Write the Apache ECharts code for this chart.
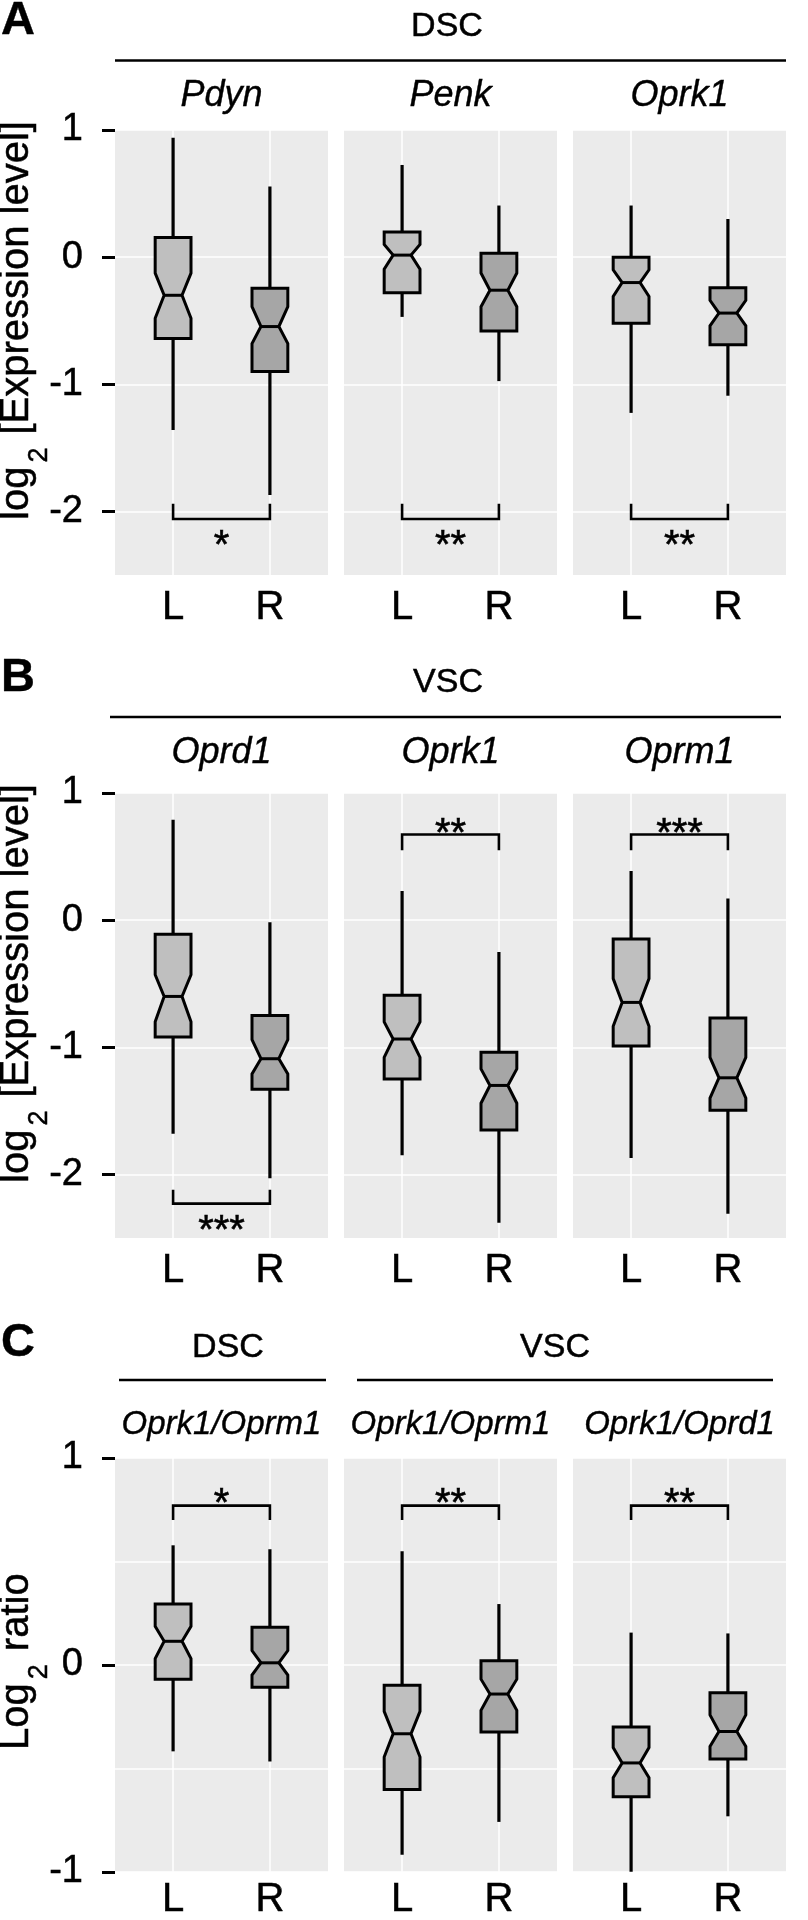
<!DOCTYPE html>
<html>
<head>
<meta charset="utf-8">
<script src="https://cdn.jsdelivr.net/npm/echarts@6/dist/echarts.min.js"></script>
<style>
html,body{margin:0;padding:0;background:#fff;}
#chart{width:808px;height:1920px;}
</style>
</head>
<body>
<div id="chart"></div>
<script>
// ---------------- DATA ----------------
const panelLetters = ['A', 'B', 'C'];
const sides = ['L', 'R'];
const groupTitlesA = ['DSC'];
const groupTitlesB = ['VSC'];
const groupTitlesC = ['DSC', 'VSC'];
const genesA = ['Pdyn', 'Penk', 'Oprk1'];
const genesB = ['Oprd1', 'Oprk1', 'Oprm1'];
const genesC = ['Oprk1/Oprm1', 'Oprk1/Oprm1', 'Oprk1/Oprd1'];
const yTicksAB = [-2, -1, 0, 1];
const yTicksC = [-1, 0, 1];
const yMinorC = [-0.5, 0.5];
const axisTitleAB = ['log', '2', ' [Expression level]'];
const axisTitleC = ['Log', '2', ' ratio'];

// box stats per gene, [L, R]; each: [whiskerLow, Q1, notchLow, median, notchHigh, Q3, whiskerHigh]
const statsA = [
  [[-1.36, -0.64, -0.48, -0.30, -0.126, 0.155, 0.94], [-1.87, -0.90, -0.68, -0.546, -0.39, -0.244, 0.556]],
  [[-0.47, -0.28, -0.094, 0.016, 0.10, 0.197, 0.725], [-0.975, -0.58, -0.39, -0.26, -0.125, 0.03, 0.406]],
  [[-1.225, -0.52, -0.31, -0.20, -0.10, 0.0, 0.406], [-1.09, -0.69, -0.54, -0.44, -0.34, -0.24, 0.30]]
];
const statsB = [
  [[-1.68, -0.92, -0.80, -0.60, -0.43, -0.11, 0.79], [-2.03, -1.33, -1.21, -1.09, -0.94, -0.75, -0.017]],
  [[-1.85, -1.25, -1.08, -0.935, -0.80, -0.59, 0.23], [-2.38, -1.65, -1.44, -1.30, -1.17, -1.04, -0.25]],
  [[-1.87, -0.99, -0.835, -0.647, -0.46, -0.149, 0.386], [-2.31, -1.495, -1.40, -1.24, -1.08, -0.77, 0.17]]
];
const statsC = [
  [[-0.418, -0.069, 0.03, 0.114, 0.186, 0.294, 0.578], [-0.467, -0.108, -0.049, 0.01, 0.069, 0.182, 0.559]],
  [[-0.918, -0.602, -0.445, -0.333, -0.225, -0.098, 0.549], [-0.759, -0.324, -0.22, -0.141, -0.069, 0.02, 0.294]],
  [[-1.0, -0.637, -0.545, -0.474, -0.40, -0.30, 0.156], [-0.732, -0.455, -0.394, -0.322, -0.242, -0.135, 0.152]]
];
// significance brackets: [barLevel, tipLevel, labelLevel]
const sigA = [[-2.06, -1.94, -2.2], [-2.06, -1.94, -2.2], [-2.06, -1.94, -2.2]];
const sigB = [[-2.23, -2.12, -2.37], [0.674, 0.55, 0.75], [0.674, 0.55, 0.75]];
const sigC = [[0.77, 0.70, 0.82], [0.77, 0.70, 0.82], [0.77, 0.70, 0.82]];
const sigLabelsA = ['*', '**', '**'];
const sigLabelsB = ['***', '**', '***'];
const sigLabelsC = ['*', '**', '**'];
const yRangeAB = [-2.5, 1];
const yRangeC = [-1, 1];

// ---------------- STYLE / LAYOUT ----------------
const FONT = '"Liberation Sans", Arial, Helvetica, sans-serif';
const FILLS = ['#BFBFBF', '#A6A6A6'];
const INK = 0.5; // slight extra stroke to match the heavier text of the original
const COLS = [115, 344, 573];
const PW = 213;
const LAYOUT = [
  { top: 130, h: 445, xMargin: 11, titleStart: 520 },
  { top: 793, h: 445, xMargin: 11, titleStart: 1183 },
  { top: 1458, h: 420, xMargin: 6, titleStart: 1750 }
];
const BOX_HW = 0.185, NOTCH_HW = 0.0925;

const rowsSpec = [
  { genes: genesA, stats: statsA, sig: sigA, sigLabels: sigLabelsA, ticks: yTicksAB, minor: null, range: yRangeAB, title: axisTitleAB },
  { genes: genesB, stats: statsB, sig: sigB, sigLabels: sigLabelsB, ticks: yTicksAB, minor: null, range: yRangeAB, title: axisTitleAB },
  { genes: genesC, stats: statsC, sig: sigC, sigLabels: sigLabelsC, ticks: yTicksC, minor: yMinorC, range: yRangeC, title: axisTitleC }
];

function renderBox(params, api) {
  const x = api.value(0);
  const wlo = api.value(1), q1 = api.value(2), nlo = api.value(3), med = api.value(4),
        nhi = api.value(5), q3 = api.value(6), whi = api.value(7);
  const P = (xx, yy) => api.coord([xx, yy]);
  const hw = BOX_HW, nw = NOTCH_HW;
  const pts = [P(x - hw, q3), P(x + hw, q3), P(x + hw, nhi), P(x + nw, med), P(x + hw, nlo),
               P(x + hw, q1), P(x - hw, q1), P(x - hw, nlo), P(x - nw, med), P(x - hw, nhi)];
  const top = P(x, whi), bot = P(x, wlo);
  const ml = P(x - nw, med), mr = P(x + nw, med);
  return {
    type: 'group',
    children: [
      { type: 'line', shape: { x1: top[0], y1: top[1], x2: bot[0], y2: bot[1] }, style: { stroke: '#000', lineWidth: 3.2 } },
      { type: 'polygon', shape: { points: pts }, style: { fill: FILLS[params.dataIndex], stroke: '#000', lineWidth: 3, lineJoin: 'miter' } },
      { type: 'line', shape: { x1: ml[0], y1: ml[1], x2: mr[0], y2: mr[1] }, style: { stroke: '#000', lineWidth: 3 } }
    ]
  };
}

function makeSigRenderer(label) {
  return function (params, api) {
    const bar = api.value(0), tip = api.value(1), lab = api.value(2);
    const a = api.coord([1, tip]), b = api.coord([1, bar]), c = api.coord([2, bar]), d = api.coord([2, tip]);
    const t = api.coord([1.5, lab]);
    return {
      type: 'group',
      children: [
        { type: 'polyline', shape: { points: [a, b, c, d] }, style: { stroke: '#000', lineWidth: 2.6, fill: 'none' } },
        { type: 'text', x: t[0], y: t[1] + 10, style: { text: label, fontSize: 40, fontFamily: FONT, fill: '#000',
          stroke: '#000', lineWidth: 0.6, lineJoin: 'round',
          align: 'center', verticalAlign: 'middle', textAlign: 'center', textVerticalAlign: 'middle' } }
      ]
    };
  };
}

const labelRich = size => ({ t: { fontSize: size, fontFamily: FONT, color: '#000', lineHeight: size * 1.1,
  textBorderColor: '#000', textBorderWidth: INK } });

const grid = [], xAxis = [], yAxis = [], series = [];
rowsSpec.forEach((row, r) => {
  const L = LAYOUT[r];
  row.genes.forEach((gene, c) => {
    const g = grid.length;
    grid.push({ left: COLS[c], top: L.top, width: PW, height: L.h, show: true, backgroundColor: '#EBEBEB', borderWidth: 0 });
    xAxis.push({
      gridIndex: g, type: 'value', min: 0.4, max: 2.6,
      axisLine: { show: false },
      axisTick: { show: false, customValues: [1, 2] },
      axisLabel: { show: true, customValues: [1, 2], formatter: v => '{t|' + sides[Math.round(v) - 1] + '}',
                   rich: labelRich(40), fontSize: 40, color: '#000', fontFamily: FONT, margin: L.xMargin },
      splitLine: { show: true, lineStyle: { color: '#FFFFFF', width: 1.5 } }
    });
    const yi = yAxis.length;
    yAxis.push({
      gridIndex: g, type: 'value', min: row.range[0], max: row.range[1],
      axisLine: { show: false },
      axisTick: { show: c === 0, customValues: row.ticks, length: 13, lineStyle: { color: '#000', width: 3 } },
      axisLabel: { show: c === 0, customValues: row.ticks, formatter: v => '{t|' + v + '}',
                   rich: labelRich(38), fontSize: 38, color: '#000', fontFamily: FONT, margin: 32 },
      splitLine: { show: true, lineStyle: { color: '#FFFFFF', width: 1.5 } }
    });
    if (row.minor) {
      yAxis.push({
        gridIndex: g, type: 'value', min: row.range[0], max: row.range[1],
        axisLine: { show: false },
        axisTick: { show: false, customValues: row.minor },
        axisLabel: { show: false, customValues: row.minor },
        splitLine: { show: true, lineStyle: { color: '#FFFFFF', width: 1.5 } }
      });
    }
    series.push({
      type: 'custom', xAxisIndex: g, yAxisIndex: yi, silent: true, z: 3,
      renderItem: renderBox,
      data: row.stats[c].map((s, k) => [k + 1].concat(s))
    });
    series.push({
      type: 'custom', xAxisIndex: g, yAxisIndex: yi, silent: true, z: 3,
      renderItem: makeSigRenderer(row.sigLabels[c]),
      data: [row.sig[c]]
    });
  });
});

// ---------------- HEADERS / TITLES ----------------
function txt(x, y, text, size, o) {
  o = o || {};
  const ink = o.ink === undefined ? INK : o.ink;
  return {
    type: 'text', x: x, y: y, rotation: o.rot || 0, silent: true,
    style: {
      text: text, fontSize: size, fontFamily: FONT, fontWeight: o.bold ? 'bold' : 'normal',
      fontStyle: o.italic ? 'italic' : 'normal', fill: '#000',
      stroke: ink > 0 ? '#000' : null, lineWidth: ink, lineJoin: 'round',
      align: o.align || 'center', verticalAlign: 'middle', textAlign: o.align || 'center', textVerticalAlign: 'middle',
      rich: o.rich
    }
  };
}
function hline(x1, x2, y) {
  return { type: 'line', silent: true, shape: { x1: x1, y1: y, x2: x2, y2: y }, style: { stroke: '#000', lineWidth: 2.7 } };
}
const colCenter = c => COLS[c] + PW / 2;
const richTitle = {
  m: { fontSize: 40, fontFamily: FONT, lineHeight: 46, verticalAlign: 'top', fill: '#000', stroke: '#000', lineWidth: INK },
  s: { fontSize: 27, fontFamily: FONT, lineHeight: 27, verticalAlign: 'top', padding: [29, 2, 0, 4], fill: '#000', stroke: '#000', lineWidth: INK }
};
const titleText = parts => '{m|' + parts[0] + '}{s|' + parts[1] + '}{m|' + parts[2] + '}';

const elements = [
  txt(1, 21.5, panelLetters[0], 47, { bold: true, align: 'left', ink: 0.4 }),
  txt(447, 26.5, groupTitlesA[0], 34),
  hline(115, 786, 60.5),
  txt(1, 678, panelLetters[1], 47, { bold: true, align: 'left', ink: 0.4 }),
  txt(448, 683, groupTitlesB[0], 34),
  hline(110, 781, 717),
  txt(1, 1343.5, panelLetters[2], 47, { bold: true, align: 'left', ink: 0.4 }),
  txt(228, 1347.5, groupTitlesC[0], 34),
  txt(555, 1347.5, groupTitlesC[1], 34),
  hline(119, 326, 1380),
  hline(357, 773, 1380)
];
rowsSpec.forEach((row, r) => {
  elements.push(txt(20, LAYOUT[r].titleStart, titleText(row.title), 40, { rot: Math.PI / 2, rich: richTitle, align: 'left' }));
});
genesA.forEach((g, c) => elements.push(txt(colCenter(c), 96, g, 36, { italic: true, ink: 0.4 })));
genesB.forEach((g, c) => elements.push(txt(colCenter(c), 752.5, g, 36, { italic: true, ink: 0.4 })));
genesC.forEach((g, c) => elements.push(txt(colCenter(c), 1425, g, 33, { italic: true, ink: 0.4 })));

const chart = echarts.init(document.getElementById('chart'), null, { renderer: 'canvas', width: 808, height: 1920 });
chart.setOption({
  backgroundColor: '#FFFFFF',
  animation: false,
  grid: grid,
  xAxis: xAxis,
  yAxis: yAxis,
  series: series,
  graphic: { elements: elements }
});
</script>
</body>
</html>
